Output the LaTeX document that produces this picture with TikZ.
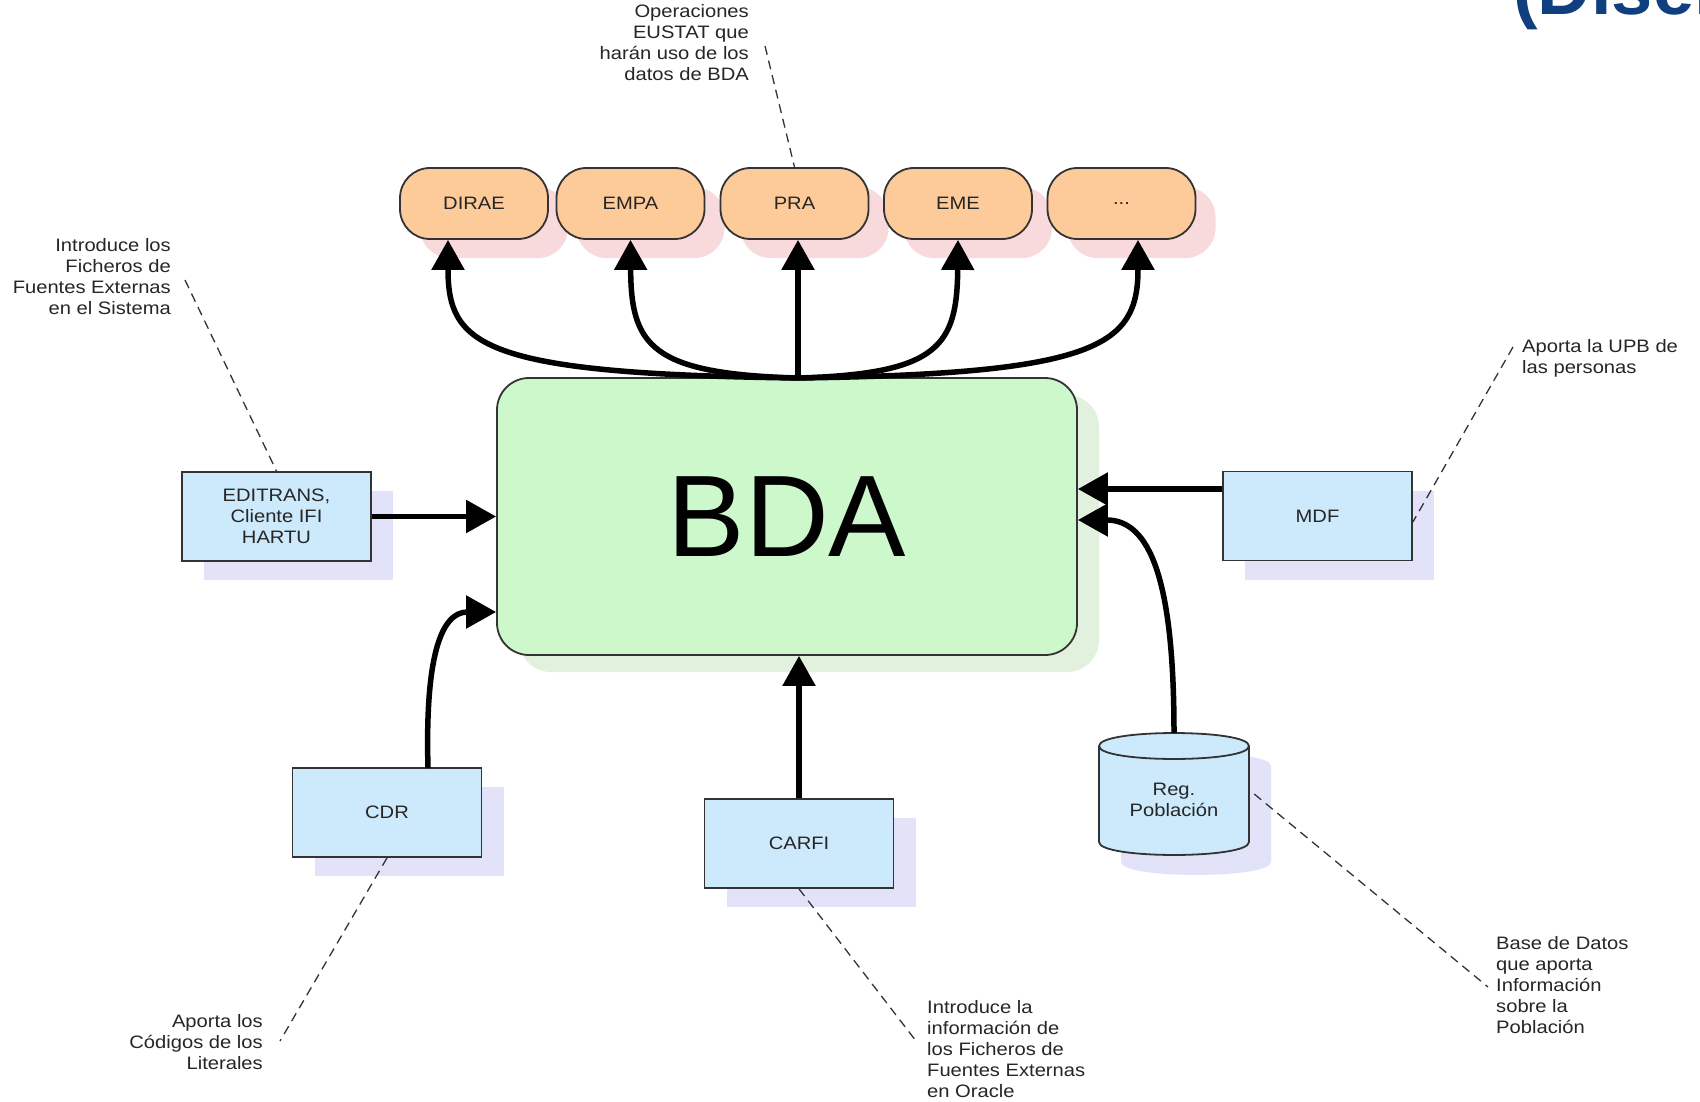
\documentclass[tikz,border=0pt]{standalone}
\usepackage{fontspec}
\setmainfont{Liberation Sans}
\newfontfamily\lab[FakeStretch=1.12]{Liberation Sans}
\usetikzlibrary{arrows.meta,shadows}
\definecolor{bdagreen}{HTML}{CCF8CC}
\definecolor{greenshadow}{HTML}{E2F0DE}
\definecolor{pillorange}{HTML}{FDCB9A}
\definecolor{pinkshadow}{HTML}{F8D9DC}
\definecolor{boxblue}{HTML}{CCEAFB}
\definecolor{lavshadow}{HTML}{E2E2F8}
\definecolor{titleblue}{HTML}{0F3F7F}
\definecolor{edge}{HTML}{333333}
\begin{document}
\begin{tikzpicture}[x=1pt,y=-1pt,
  lbl/.style={font=\lab\fontsize{18}{21}\selectfont, text=black!85},
  notetext/.style={lbl, inner sep=0pt},
  bluebox/.style={lbl, draw=edge, line width=1.8pt, fill=boxblue, minimum width=189pt, minimum height=89pt, inner sep=0pt, align=center,
     drop shadow={shadow xshift=22pt, shadow yshift=-19pt, fill=lavshadow, opacity=1}},
  pill/.style={lbl, draw=edge, line width=1.8pt, fill=pillorange, rounded corners=30pt, minimum width=148pt, minimum height=71pt, inner sep=0pt,
     drop shadow={shadow xshift=20pt, shadow yshift=-19pt, fill=pinkshadow, opacity=1}},
  bdabox/.style={draw=edge, line width=1.8pt, fill=bdagreen, rounded corners=32pt, minimum width=580pt, minimum height=277pt, inner sep=0pt,
     font=\fontsize{116}{130}\selectfont,
     drop shadow={shadow xshift=22pt, shadow yshift=-17pt, fill=greenshadow, opacity=1}},
  flow/.style={line width=5.5pt, -{Triangle[width=32pt,length=30pt]}},
  note/.style={draw=edge, line width=1.3pt, dash pattern=on 9pt off 6pt}
]
\useasboundingbox (0,0) rectangle (1700,1102);
\fill[white] (0,0) rectangle (1700,1102);

% title (cut off at the edge, as in the reference)
\begin{scope}
\clip (0,0) rectangle (1700,1102);
\node[anchor=base west, inner sep=0pt, text=titleblue, font=\bfseries\fontsize{74}{88}\selectfont] (title) at (1513,15) {(Diseño};
\end{scope}

% main box
\node[bdabox] (bda) at (787,516.5) {BDA};

% operations
\node[pill] (dirae) at (474,203.5) {DIRAE};
\node[pill] (empa) at (630.5,203.5) {EMPA};
\node[pill] (pra) at (794.5,203.5) {PRA};
\node[pill] (eme) at (958,203.5) {EME};
\node[pill] (more) at (1121.5,203.5) {...};

% sources
\node[bluebox] (edit) at (276.5,516.5) {EDITRANS,\\Cliente IFI\\HARTU};
\node[bluebox] (mdf) at (1317.5,516) {MDF};
\node[bluebox] (cdr) at (387,812.5) {CDR};
\node[bluebox] (carfi) at (799,843.5) {CARFI};

% cylinder
\fill[lavshadow] (1121,766) -- (1121,862) .. controls (1121,879.3) and (1271,879.3) .. (1271,862) -- (1271,766) .. controls (1271,748.7) and (1121,748.7) .. (1121,766) -- cycle;
\filldraw[fill=boxblue, draw=edge, line width=1.8pt] (1099,746) -- (1099,842) .. controls (1099,859.3) and (1249,859.3) .. (1249,842) -- (1249,746) .. controls (1249,728.7) and (1099,728.7) .. (1099,746) -- cycle;
\draw[edge, line width=1.8pt] (1099,746) .. controls (1099,763.3) and (1249,763.3) .. (1249,746);
\node[inner sep=0pt, minimum width=150pt, minimum height=122pt] (reg) at (1174,794) {};
\node[lbl, align=center, inner sep=0pt] (regtxt) at (1174,800) {Reg.\\Población};

% flows into BDA
\coordinate (mdfout) at ([yshift=27pt]mdf.west);
\coordinate (cdrout) at (428,768);
\draw[flow] (edit.east) -- (bda.west |- edit.east);
\draw[flow] (mdfout) -- (bda.east |- mdfout);
\draw[flow] (reg.north) .. controls (1174,580) and (1150,520) .. (bda.east |- 0,520);
\draw[flow] (cdrout) .. controls (425,660) and (440,612) .. (bda.west |- 0,612);
\draw[flow] (carfi.north) -- (bda.south -| carfi.north);

% flows out of BDA
\coordinate (top) at (798,378);
\draw[flow] (top) .. controls (480,374) and (448,345) .. ([xshift=-26pt]dirae.south);
\draw[flow] (top) .. controls (650,374) and (631,345) .. (empa.south);
\draw[flow] (top) -- (pra.south -| top);
\draw[flow] (top) .. controls (940,374) and (957,345) .. (eme.south);
\draw[flow] (top) .. controls (1100,374) and (1138,345) .. ([xshift=16.5pt]more.south);

% notes
\node[notetext, align=right, anchor=north east] (opsnote) at (749,4) {Operaciones\\EUSTAT que\\harán uso de los\\datos de BDA};
\node[notetext, align=right, anchor=north east] (intronote) at (171,238) {Introduce los\\Ficheros de\\Fuentes Externas\\en el Sistema};
\node[notetext, align=left, anchor=north west] (upbnote) at (1522,339) {Aporta la UPB de\\las personas};
\node[notetext, align=right, anchor=north east] (cdrnote) at (263,1014) {Aporta los\\Códigos de los\\Literales};
\node[notetext, align=left, anchor=north west] (carfinote) at (927,1000) {Introduce la\\información de\\los Ficheros de\\Fuentes Externas\\en Oracle};
\node[notetext, align=left, anchor=north west] (regnote) at (1496,936) {Base de Datos\\que aporta\\Información\\sobre la\\Población};

\coordinate (opsA) at (765,46);
\coordinate (introA) at (185,280);
\coordinate (upbA) at (1513,347);
\coordinate (cdrA) at (280,1041);
\coordinate (carfiA) at (916,1041);
\coordinate (regA) at (1488,987);

\draw[note] (opsA) -- (pra.north);
\draw[note] (introA) -- (edit.north);
\draw[note] (upbA) -- ([yshift=-6pt]mdf.east);
\draw[note] (cdr.south) -- (cdrA);
\draw[note] (carfi.south) -- (carfiA);
\draw[note] ([xshift=5pt]reg.east) -- (regA);
\end{tikzpicture}
\end{document}
